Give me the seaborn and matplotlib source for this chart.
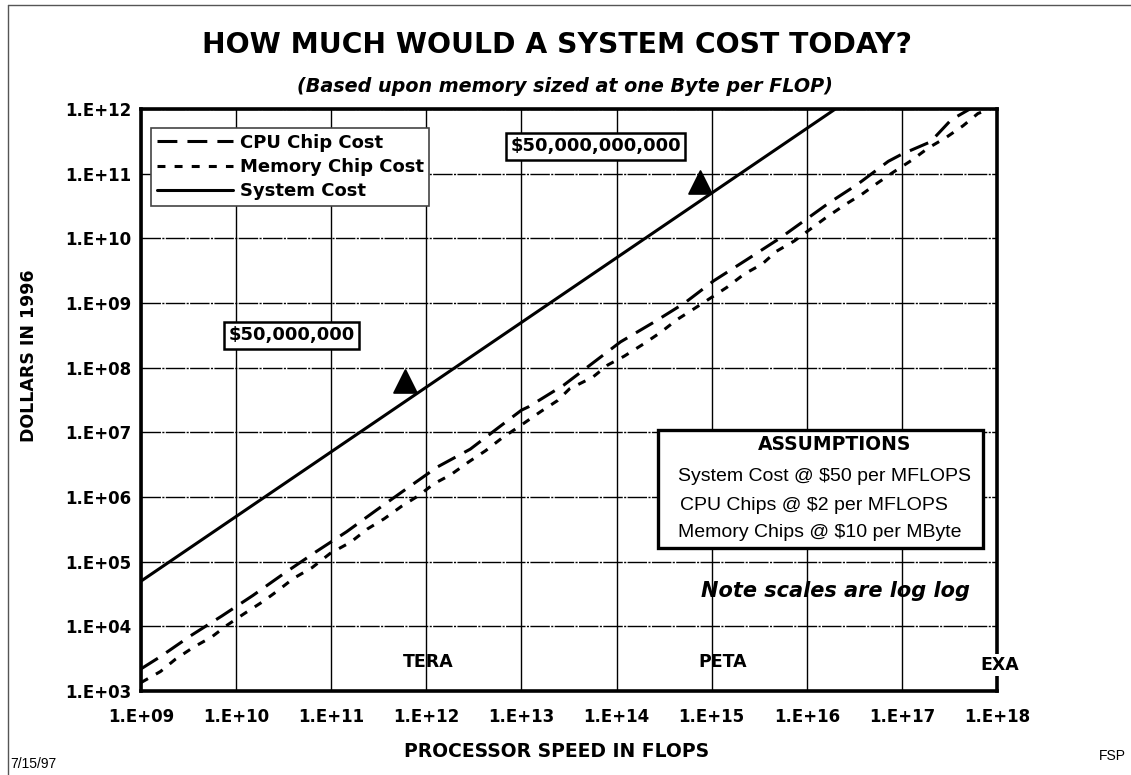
import matplotlib
matplotlib.use("Agg")
import matplotlib.pyplot as plt
from matplotlib.lines import Line2D
from matplotlib.patches import Rectangle
import seaborn as sns

# values (FLOPS -> dollars)
cpu_flops = [1.0e9, 1.6e9, 3.3e9, 7.1e9, 1.5e10, 3.2e10, 6.8e10, 1.45e11, 3.0e11, 6.0e11,
             1.3e12, 2.9e12, 5.8e12, 1.0e13, 1.2e13, 2.8e13, 5.5e13, 1.1e14, 2.5e14, 5.2e14,
             1.05e15, 2.3e15, 5.2e15, 1.7e16, 3.4e16, 7.2e16, 1.0e17, 2.0e17, 3.3e17, 7.4e17, 1.0e18]
cpu_cost = [2.2e3, 3.4e3, 7.1e3, 1.45e4, 3.0e4, 6.6e4, 1.4e5, 2.9e5, 6.3e5, 1.3e6,
            2.9e6, 5.5e6, 1.2e7, 2.2e7, 2.5e7, 5.4e7, 1.15e8, 2.5e8, 5.1e8, 1.0e9,
            2.2e9, 4.6e9, 1.0e10, 3.5e10, 6.8e10, 1.55e11, 2.0e11, 3.1e11, 6.8e11, 1.35e12, 1.8e12]

mem_flops = [1.0e9, 1.6e9, 2.3e9, 3.6e9, 5.5e9, 8.1e9, 1.2e10, 1.9e10, 2.7e10, 4.0e10,
             6.3e10, 9.8e10, 1.6e11, 2.4e11, 3.6e11, 5.5e11, 8.3e11, 1.2e12, 1.8e12, 2.8e12,
             4.2e12, 6.2e12, 1.0e13, 1.6e13, 2.4e13, 3.2e13, 5.6e13, 8.1e13, 1.2e14, 1.9e14,
             2.9e14, 4.3e14, 6.5e14, 9.8e14, 1.45e15, 2.2e15, 3.4e15, 4.8e15, 7.4e15, 1.1e16,
             1.6e16, 2.6e16, 3.8e16, 5.5e16, 8.1e16, 1.26e17, 1.9e17, 2.9e17, 4.4e17, 6.3e17, 9.5e17]
mem_cost = [1.35e3, 2.0e3, 3.1e3, 4.8e3, 6.8e3, 1.05e4, 1.55e4, 2.4e4, 3.5e4, 5.5e4,
            8.1e4, 1.35e5, 2.0e5, 3.2e5, 4.6e5, 7.2e5, 1.05e6, 1.6e6, 2.2e6, 3.5e6,
            5.2e6, 8.1e6, 1.3e7, 2.1e7, 3.1e7, 4.7e7, 7.1e7, 1.1e8, 1.5e8, 2.3e8,
            3.5e8, 5.5e8, 8.1e8, 1.2e9, 1.75e9, 2.8e9, 4.0e9, 6.3e9, 9.1e9, 1.4e10,
            2.1e10, 3.4e10, 4.8e10, 7.1e10, 1.05e11, 1.6e11, 2.5e11, 3.6e11, 5.5e11, 8.5e11, 1.07e12]

sys_flops = [1e9, 1e10, 1e11, 1e12, 1e13, 1e14, 1e15, 1e16, 1e17]
sys_cost = [5e4, 5e5, 5e6, 5e7, 5e8, 5e9, 5e10, 5e11, 5e12]

marker_flops = [6.0e11, 7.6e14]
marker_cost = [6.2e7, 7.5e10]

x_ticks = [1e9, 1e10, 1e11, 1e12, 1e13, 1e14, 1e15, 1e16, 1e17, 1e18]
x_tick_labels = ["1.E+09", "1.E+10", "1.E+11", "1.E+12", "1.E+13",
                 "1.E+14", "1.E+15", "1.E+16", "1.E+17", "1.E+18"]
y_ticks = [1e3, 1e4, 1e5, 1e6, 1e7, 1e8, 1e9, 1e10, 1e11, 1e12]
y_tick_labels = ["1.E+03", "1.E+04", "1.E+05", "1.E+06", "1.E+07",
                 "1.E+08", "1.E+09", "1.E+10", "1.E+11", "1.E+12"]

sns.set_style("white")
plt.rcParams["font.family"] = ["DejaVu Sans"]
plt.rcParams["text.color"] = "black"
plt.rcParams["axes.labelcolor"] = "black"
plt.rcParams["xtick.color"] = "black"
plt.rcParams["ytick.color"] = "black"

cpu_dash = (0, (6.5, 3.3))
mem_dash = (0, (2.6, 3.0))

fig = plt.figure(figsize=(11.31, 7.75), dpi=100)
ax = fig.add_axes([0.1247, 0.1084, 0.7568, 0.7510])

sns.lineplot(x=sys_flops, y=sys_cost, ax=ax, color="black", linewidth=2.2, zorder=4)
sns.lineplot(x=cpu_flops, y=cpu_cost, ax=ax, color="black", linewidth=2.2,
             linestyle=cpu_dash, zorder=4)
sns.lineplot(x=mem_flops, y=mem_cost, ax=ax, color="black", linewidth=2.2,
             linestyle=mem_dash, zorder=4)
sns.scatterplot(x=marker_flops, y=marker_cost, ax=ax, marker="^", s=270,
                color="black", edgecolor="black", zorder=5)

ax.set_xscale("log")
ax.set_yscale("log")
ax.set_xlim(1e9, 1e18)
ax.set_ylim(1e3, 1e12)
ax.set_xticks(x_ticks)
ax.set_xticklabels(x_tick_labels, fontsize=12, fontweight="bold")
ax.set_yticks(y_ticks)
ax.set_yticklabels(y_tick_labels, fontsize=12, fontweight="bold")
ax.minorticks_off()
ax.tick_params(axis="x", direction="in", length=7, width=1, pad=12)
ax.tick_params(axis="y", direction="out", length=5, width=1, pad=2)

ax.xaxis.grid(True, color="black", linewidth=1, linestyle="-")
ax.yaxis.grid(True, color="black", linewidth=1, linestyle=(0, (14, 1.0, 1.5, 1.0)))
ax.set_axisbelow(True)
for sp in ax.spines.values():
    sp.set_visible(True)
    sp.set_color("black")
    sp.set_linewidth(2.6)
    sp.set_zorder(6)

ax.set_xlabel("PROCESSOR SPEED IN FLOPS", fontsize=13.5, fontweight="bold")
ax.xaxis.set_label_coords(0.486, -0.088)
ax.set_ylabel("DOLLARS IN 1996", fontsize=12.5, fontweight="bold")
ax.yaxis.set_label_coords(-0.12, 0.5756)

# legend
handles = [Line2D([], [], color="black", lw=2.2, linestyle=cpu_dash),
           Line2D([], [], color="black", lw=2.2, linestyle=mem_dash),
           Line2D([], [], color="black", lw=2.2)]
leg = ax.legend(handles, ["CPU Chip Cost", "Memory Chip Cost", "System Cost"],
                loc="upper left", bbox_to_anchor=(0.012, 0.967), fancybox=False,
                framealpha=1, edgecolor="#444444", borderpad=0.3, labelspacing=0.35,
                handlelength=4.2, handletextpad=0.4, borderaxespad=0,
                prop={"weight": "bold", "size": 13})
leg.get_frame().set_linewidth(1.2)
leg.set_zorder(7)

# value call-outs
box = dict(boxstyle="square,pad=0.25", facecolor="white", edgecolor="black", linewidth=1.8)
ax.text(0.176, 0.611, "$50,000,000", transform=ax.transAxes, ha="center", va="center",
        fontsize=13, fontweight="bold", bbox=box, zorder=7)
ax.text(0.531, 0.936, "$50,000,000,000", transform=ax.transAxes, ha="center", va="center",
        fontsize=13, fontweight="bold", bbox=box, zorder=7)

# assumptions box
ax.add_patch(Rectangle((0.604, 0.2457), 0.3796, 0.2028, transform=ax.transAxes,
                       facecolor="white", edgecolor="black", linewidth=2.4, zorder=7))
ax.text(0.8107, 0.4227, "ASSUMPTIONS", transform=ax.transAxes, ha="center", va="center",
        fontsize=13.5, fontweight="bold", zorder=8)
ax.text(0.798, 0.3677, "System Cost @ $50 per MFLOPS", transform=ax.transAxes,
        ha="center", va="center", fontsize=14, family="Liberation Sans", zorder=8)
ax.text(0.786, 0.3179, "CPU Chips @ $2 per MFLOPS", transform=ax.transAxes,
        ha="center", va="center", fontsize=14, family="Liberation Sans", zorder=8)
ax.text(0.793, 0.2715, "Memory Chips @ $10 per MByte", transform=ax.transAxes,
        ha="center", va="center", fontsize=14, family="Liberation Sans", zorder=8)

ax.text(0.811, 0.171, "Note scales are log log", transform=ax.transAxes, ha="center",
        va="center", fontsize=15, fontweight="bold", style="italic", zorder=8)

ax.text(0.335, 0.05, "TERA", transform=ax.transAxes, ha="center", va="center",
        fontsize=12.5, fontweight="bold", zorder=8)
ax.text(0.680, 0.05, "PETA", transform=ax.transAxes, ha="center", va="center",
        fontsize=12.5, fontweight="bold", zorder=8)
ax.text(1.003, 0.045, "EXA", transform=ax.transAxes, ha="center", va="center",
        fontsize=12.5, fontweight="bold", clip_on=False, zorder=8,
        bbox=dict(boxstyle="square,pad=0.1", facecolor="white", edgecolor="none"))

# titles and footers
fig.text(0.4925, 0.942, "HOW MUCH WOULD A SYSTEM COST TODAY?", ha="center", va="center",
         fontsize=20.3, fontweight="bold")
fig.text(0.4995, 0.888, "(Based upon memory sized at one Byte per FLOP)", ha="center",
         va="center", fontsize=13.8, fontweight="bold", style="italic")
fig.text(0.009, 0.005, "7/15/97", ha="left", va="bottom", fontsize=10, family="Liberation Sans")
fig.text(0.972, 0.015, "FSP", ha="left", va="bottom", fontsize=10, family="Liberation Sans")

# page border
fig.add_artist(Line2D([0.007, 0.007], [0, 0.994], transform=fig.transFigure,
                      color="#555555", lw=1))
fig.add_artist(Line2D([0.007, 1.0], [0.994, 0.994], transform=fig.transFigure,
                      color="#555555", lw=1))

fig.savefig("out.png", dpi=100)
